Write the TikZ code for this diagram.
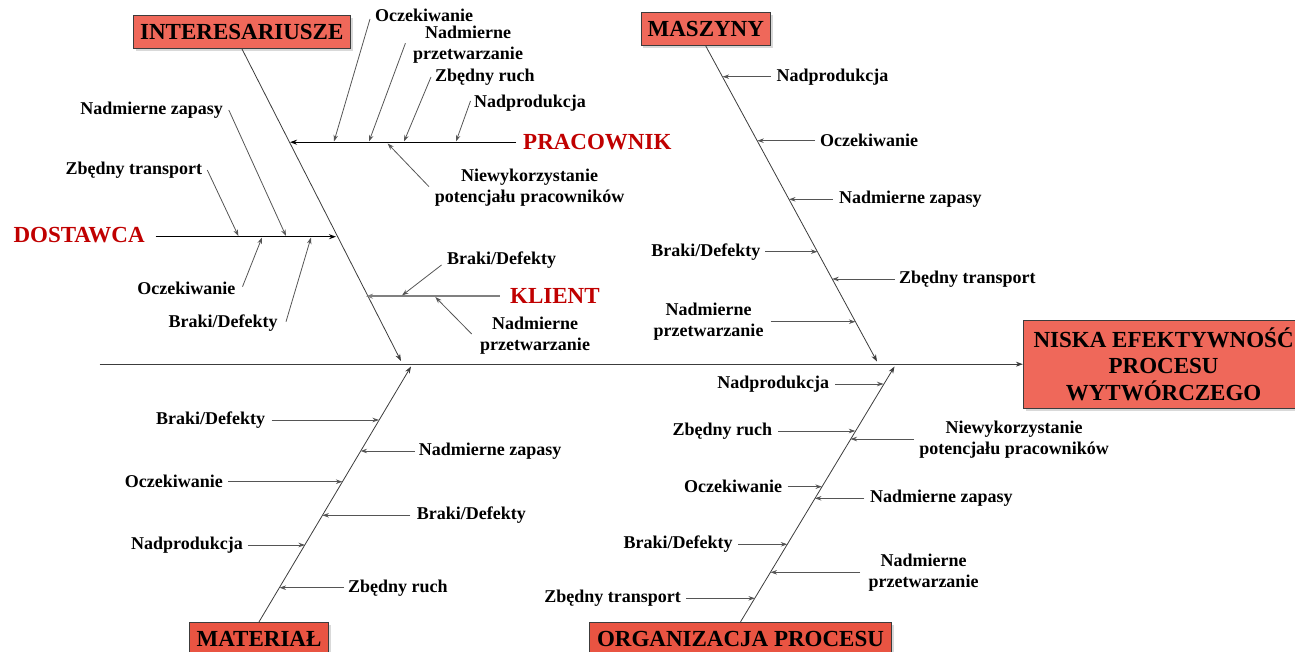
\documentclass[tikz,border=0pt]{standalone}
\usepackage{fontspec}
\setmainfont{Liberation Serif}
\usetikzlibrary{arrows.meta,shadows}
\definecolor{boxfill}{RGB}{239,104,90}
\definecolor{boxfillb}{RGB}{233,84,66}
\definecolor{redtxt}{RGB}{192,0,0}
\definecolor{linegray}{RGB}{60,60,60}
\definecolor{arrgray}{RGB}{85,85,85}
\tikzset{
  lbl/.style={font=\fontsize{18}{21}\selectfont\bfseries, inner sep=0pt, align=center},
  cat/.style={draw=linegray, line width=0.8pt, fill=boxfill, font=\fontsize{23}{26.7}\selectfont\bfseries, inner sep=0pt, align=center,
    drop shadow={shadow xshift=2.5pt, shadow yshift=-2.5pt, opacity=0.3, fill=gray}},
  catb/.style={cat, fill=boxfillb},
  mainlbl/.style={font=\fontsize{23}{27}\selectfont\bfseries, text=redtxt, inner sep=0pt},
  bone/.style={draw=linegray, line width=0.8pt, -{Stealth[length=7pt,width=5pt]}},
  arr/.style={draw=arrgray, line width=0.8pt, -{Stealth[length=6.5pt,width=4.5pt]}},
  subbone/.style={draw=black, line width=1.2pt, -{Stealth[length=7pt,width=5pt]}},
  klbone/.style={draw=gray, line width=2pt, -{Stealth[length=7pt,width=5pt]}},
}
\begin{document}
\begin{tikzpicture}[x=1pt,y=-1pt]
\useasboundingbox (0,0) rectangle (1295,652);
\clip (0,0) rectangle (1295,652);

% category boxes
\node[cat, minimum width=217.5pt, minimum height=33pt] (inter) at (241.8,31.7) {INTERESARIUSZE};
\node[cat, minimum width=129.7pt, minimum height=33pt] (masz) at (705.8,29.2) {MASZYNY};
\node[catb, minimum width=139.3pt, minimum height=33pt] (mat) at (259,638.8) {MATERIAŁ};
\node[catb, minimum width=302.4pt, minimum height=33pt] (org) at (740.5,638.8) {ORGANIZACJA PROCESU};
\node[cat, minimum width=280.7pt, minimum height=88.3pt] (eff) at (1163.6,364.2) {NISKA EFEKTYWNOŚĆ\\PROCESU\\WYTWÓRCZEGO};

% spine
\coordinate (spst) at (99.5,364.2);
\draw[bone] (spst) -- (eff.west);

% main bones
\coordinate (b1e) at (401,361);
\coordinate (b2e) at (877,361.5);
\coordinate (b3e) at (411,366.5);
\coordinate (b4e) at (894.5,366.5);
\draw[bone] (inter.south) -- (b1e);
\draw[bone] (masz.south) -- (b2e);
\draw[bone] (mat.north) -- (b3e);
\draw[bone] (org.north) -- (b4e);

% red sub-causes
\node[mainlbl, anchor=west] (prac) at (523,141.7) {PRACOWNIK};
\node[mainlbl, anchor=west] (dost) at (13.3,235) {DOSTAWCA};
\node[mainlbl, anchor=west] (kli) at (510,295.5) {KLIENT};
\coordinate (pracs) at (516,142.2);
\coordinate (prace) at (290,142.2);
\coordinate (dosts) at (155.5,236.7);
\coordinate (doste) at (336,236.7);
\coordinate (klis) at (499.5,296.2);
\coordinate (klie) at (366,296.2);
\draw[subbone] (pracs) -- (prace);
\draw[subbone] (dosts) -- (doste);
\draw[klbone] (klis) -- (klie);

% PRACOWNIK causes
\node[lbl, anchor=west] (p1) at (375,15.8) {Oczekiwanie};
\node[lbl] (p2) at (468,44.5) {Nadmierne\\przetwarzanie};
\node[lbl, anchor=west] (p3) at (435,77.7) {Zbędny ruch};
\node[lbl, anchor=west] (p4) at (474,102.7) {Nadprodukcja};
\node[lbl] (p5) at (529.5,187.2) {Niewykorzystanie\\potencjału pracowników};
\coordinate (p1t) at (370,19); \coordinate (p1h) at (334,141.5);
\coordinate (p2t) at (405.4,43.3); \coordinate (p2h) at (369,141.5);
\coordinate (p3t) at (431,77); \coordinate (p3h) at (404,141.5);
\coordinate (p4t) at (470.5,101); \coordinate (p4h) at (456,141.5);
\coordinate (p5t) at (429,186.7); \coordinate (p5h) at (387.6,143.5);
\draw[arr] (p1t) -- (p1h);
\draw[arr] (p2t) -- (p2h);
\draw[arr] (p3t) -- (p3h);
\draw[arr] (p4t) -- (p4h);
\draw[arr] (p5t) -- (p5h);

% DOSTAWCA causes
\node[lbl, anchor=east] (d1) at (223,110) {Nadmierne zapasy};
\node[lbl, anchor=east] (d2) at (202.3,170) {Zbędny transport};
\node[lbl, anchor=east] (d3) at (235.5,288.3) {Oczekiwanie};
\node[lbl, anchor=east] (d4) at (277.7,322.7) {Braki/Defekty};
\coordinate (d1t) at (228.8,110); \coordinate (d1h) at (286,236);
\coordinate (d2t) at (207.3,170); \coordinate (d2h) at (238.4,236);
\coordinate (d3t) at (242.5,286.7); \coordinate (d3h) at (262,237.5);
\coordinate (d4t) at (286,321.7); \coordinate (d4h) at (311,237.5);
\draw[arr] (d1t) -- (d1h);
\draw[arr] (d2t) -- (d2h);
\draw[arr] (d3t) -- (d3h);
\draw[arr] (d4t) -- (d4h);

% KLIENT causes
\node[lbl, anchor=west] (k1) at (446.9,260) {Braki/Defekty};
\node[lbl] (k2) at (535,335.8) {Nadmierne\\przetwarzanie};
\coordinate (k1t) at (441.5,265); \coordinate (k1h) at (402,295.5);
\coordinate (k2t) at (471.7,334); \coordinate (k2h) at (435.3,297);
\draw[arr] (k1t) -- (k1h);
\draw[arr] (k2t) -- (k2h);

% MASZYNY causes
\node[lbl, anchor=west] (m1) at (776.4,76.7) {Nadprodukcja};
\node[lbl, anchor=west] (m2) at (820,140.7) {Oczekiwanie};
\node[lbl, anchor=west] (m3) at (839,199.3) {Nadmierne zapasy};
\node[lbl, anchor=east] (m4) at (760.5,251.7) {Braki/Defekty};
\node[lbl, anchor=west] (m5) at (899,279) {Zbędny transport};
\node[lbl] (m6) at (708.5,321.8) {Nadmierne\\przetwarzanie};
\coordinate (m1t) at (770.7,76.7); \coordinate (m1h) at (722.6,76.7);
\coordinate (m2t) at (815,140.7); \coordinate (m2h) at (757.3,140.7);
\coordinate (m3t) at (832.7,199.3); \coordinate (m3h) at (789,199.3);
\coordinate (m4t) at (765,251.7); \coordinate (m4h) at (817.4,251.7);
\coordinate (m5t) at (894.8,279); \coordinate (m5h) at (832.2,279);
\coordinate (m6t) at (770.7,321.7); \coordinate (m6h) at (855.4,321.7);
\draw[arr] (m1t) -- (m1h);
\draw[arr] (m2t) -- (m2h);
\draw[arr] (m3t) -- (m3h);
\draw[arr] (m4t) -- (m4h);
\draw[arr] (m5t) -- (m5h);
\draw[arr] (m6t) -- (m6h);

% MATERIAL causes
\node[lbl, anchor=east] (t1) at (265.3,420) {Braki/Defekty};
\node[lbl, anchor=west] (t2) at (418.7,451) {Nadmierne zapasy};
\node[lbl, anchor=east] (t3) at (223,481.7) {Oczekiwanie};
\node[lbl, anchor=west] (t4) at (416.6,515.3) {Braki/Defekty};
\node[lbl, anchor=east] (t5) at (243,545.5) {Nadprodukcja};
\node[lbl, anchor=west] (t6) at (348,587.7) {Zbędny ruch};
\coordinate (t1t) at (271.5,420); \coordinate (t1h) at (379,420);
\coordinate (t2t) at (414.5,451); \coordinate (t2h) at (360.6,451);
\coordinate (t3t) at (228,481.7); \coordinate (t3h) at (342.4,481.7);
\coordinate (t4t) at (410.4,515.3); \coordinate (t4h) at (322.4,515.3);
\coordinate (t5t) at (247.9,545); \coordinate (t5h) at (305,545);
\coordinate (t6t) at (344,587.7); \coordinate (t6h) at (279.5,587.7);
\draw[arr] (t1t) -- (t1h);
\draw[arr] (t2t) -- (t2h);
\draw[arr] (t3t) -- (t3h);
\draw[arr] (t4t) -- (t4h);
\draw[arr] (t5t) -- (t5h);
\draw[arr] (t6t) -- (t6h);

% ORGANIZACJA causes
\node[lbl, anchor=east] (o1) at (829.3,384) {Nadprodukcja};
\node[lbl, anchor=east] (o2) at (772.3,431) {Zbędny ruch};
\node[lbl] (o3) at (1014,439.2) {Niewykorzystanie\\potencjału pracowników};
\node[lbl, anchor=east] (o4) at (782.3,486.7) {Oczekiwanie};
\node[lbl, anchor=west] (o5) at (870,498.3) {Nadmierne zapasy};
\node[lbl, anchor=east] (o6) at (732.7,544.3) {Braki/Defekty};
\node[lbl] (o7) at (923.5,572.2) {Nadmierne\\przetwarzanie};
\node[lbl, anchor=east] (o8) at (681,598.3) {Zbędny transport};
\coordinate (o1t) at (835,384); \coordinate (o1h) at (883.5,384);
\coordinate (o2t) at (778.3,431); \coordinate (o2h) at (855.3,431);
\coordinate (o3t) at (914,439); \coordinate (o3h) at (850.5,439);
\coordinate (o4t) at (787.7,486.7); \coordinate (o4h) at (821.9,486.7);
\coordinate (o5t) at (864.3,498.3); \coordinate (o5h) at (814.9,498.3);
\coordinate (o6t) at (738.3,544.3); \coordinate (o6h) at (787.3,544.3);
\coordinate (o7t) at (860,572.3); \coordinate (o7h) at (770.5,572.3);
\coordinate (o8t) at (686,598.3); \coordinate (o8h) at (754.9,598.3);
\draw[arr] (o1t) -- (o1h);
\draw[arr] (o2t) -- (o2h);
\draw[arr] (o3t) -- (o3h);
\draw[arr] (o4t) -- (o4h);
\draw[arr] (o5t) -- (o5h);
\draw[arr] (o6t) -- (o6h);
\draw[arr] (o7t) -- (o7h);
\draw[arr] (o8t) -- (o8h);
\end{tikzpicture}
\end{document}
